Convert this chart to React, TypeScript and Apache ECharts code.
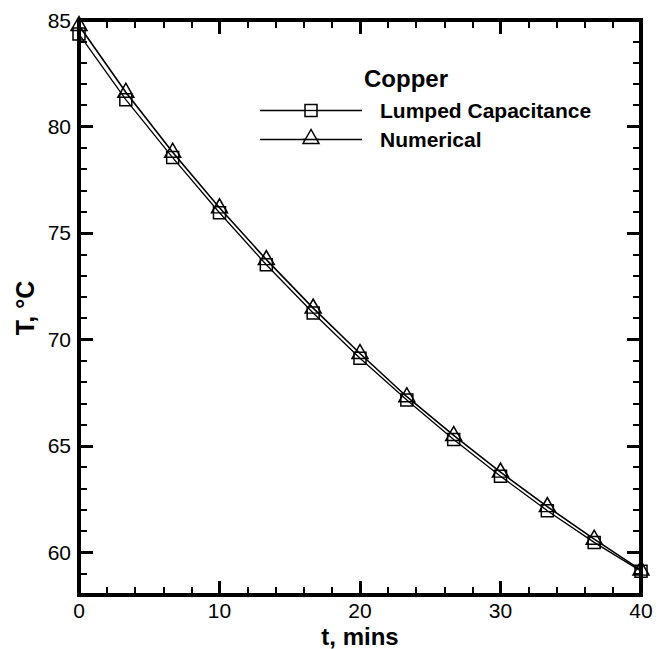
import React, { useEffect, useRef } from "react";
import * as echarts from "echarts";

// Time samples (minutes)
const timeMin = [0, 3.333, 6.667, 10, 13.333, 16.667, 20, 23.333, 26.667, 30, 33.333, 36.667, 40];
// Temperature, lumped capacitance model (°C)
const lumped = [84.34, 81.26, 78.54, 75.95, 73.51, 71.24, 69.12, 67.16, 65.3, 63.58, 61.96, 60.47, 59.12];
// Temperature, numerical solution (°C)
const numerical = [84.74, 81.61, 78.79, 76.18, 73.75, 71.47, 69.34, 67.31, 65.49, 63.77, 62.15, 60.62, 59.17];

// Major tick / label values
const xMajor = [0, 10, 20, 30, 40];
const yMajor = [60, 65, 70, 75, 80, 85];

const X_MIN = 0;
const X_MAX = 40;
const Y_MIN = 58;
const Y_MAX = 85;

const FONT = "Liberation Sans, Arial, Helvetica, sans-serif";

function xAxisDef(position: "bottom" | "top", withLabels: boolean) {
  return {
    type: "value",
    gridIndex: 0,
    position,
    min: X_MIN,
    max: X_MAX,
    interval: 10,
    axisLine: { show: false },
    axisTick: { show: true, inside: true, length: 14, lineStyle: { color: "#000", width: 3 } },
    minorTick: { show: true, splitNumber: 5, length: 8, lineStyle: { color: "#000", width: 2 } },
    axisLabel: withLabels
      ? { show: true, margin: 5, fontSize: 21, color: "#000", fontFamily: FONT }
      : { show: false },
    splitLine: { show: false },
  };
}

// minor ticks every degree, plus an overlay axis carrying the longer major ticks
function yAxisDefs(position: "left" | "right", withLabels: boolean) {
  return [
    {
      type: "value",
      gridIndex: 0,
      position,
      min: Y_MIN,
      max: Y_MAX,
      interval: 1,
      splitLine: { show: false },
      axisLine: { show: false },
      axisTick: { show: true, inside: true, length: 8, lineStyle: { color: "#000", width: 2 } },
      axisLabel: withLabels
        ? { show: true, customValues: yMajor, margin: 8, fontSize: 21, color: "#000", fontFamily: FONT }
        : { show: false },
    },
    {
      type: "value",
      gridIndex: 0,
      position,
      min: Y_MIN,
      max: Y_MAX,
      interval: 1,
      splitLine: { show: false },
      axisLine: { show: false },
      axisTick: { show: true, inside: true, length: 14, customValues: yMajor, lineStyle: { color: "#000", width: 3 } },
      axisLabel: { show: false },
    },
  ];
}

function legendGraphics() {
  const lx0 = 260;
  const lx1 = 362;
  const lxm = 311;
  const row1 = 110.5;
  const row2 = 139.5;
  return [
    {
      type: "text",
      x: 360,
      y: 636,
      style: { text: "t, mins", font: `bold 24px ${FONT}`, fill: "#000", align: "center", verticalAlign: "middle" },
    },
    {
      type: "text",
      x: 25,
      y: 308,
      rotation: Math.PI / 2,
      style: { text: "T, °C", font: `bold 25px ${FONT}`, fill: "#000", align: "center", verticalAlign: "middle" },
    },
    {
      type: "text",
      x: 364,
      y: 78,
      style: { text: "Copper", font: `bold 24px ${FONT}`, fill: "#000", align: "left", verticalAlign: "middle" },
    },
    { type: "line", shape: { x1: lx0, y1: row1, x2: lx1, y2: row1 }, style: { stroke: "#000", lineWidth: 1.3 } },
    {
      type: "rect",
      shape: { x: lxm - 6, y: row1 - 6, width: 12, height: 12 },
      style: { fill: "#fff", stroke: "#000", lineWidth: 1.5 },
    },
    { type: "line", shape: { x1: lxm - 6, y1: row1, x2: lxm + 6, y2: row1 }, style: { stroke: "#000", lineWidth: 1.3 } },
    {
      type: "text",
      x: 380,
      y: row1,
      style: { text: "Lumped Capacitance", font: `bold 21px ${FONT}`, fill: "#000", align: "left", verticalAlign: "middle" },
    },
    { type: "line", shape: { x1: lx0, y1: row2, x2: lx1, y2: row2 }, style: { stroke: "#000", lineWidth: 1.6 } },
    {
      type: "polygon",
      shape: { points: [[lxm, row2 - 10], [lxm - 8, row2 + 4], [lxm + 8, row2 + 4]] },
      style: { fill: "#fff", stroke: "#000", lineWidth: 1.5 },
    },
    { type: "line", shape: { x1: lxm - 8, y1: row2, x2: lxm + 8, y2: row2 }, style: { stroke: "#000", lineWidth: 1.6 } },
    {
      type: "text",
      x: 380,
      y: row2,
      style: { text: "Numerical", font: `bold 21px ${FONT}`, fill: "#000", align: "left", verticalAlign: "middle" },
    },
  ];
}

export default function App() {
  const ref = useRef<HTMLDivElement>(null);

  useEffect(() => {
    if (!ref.current) return;
    const chart = echarts.init(ref.current, null, { renderer: "svg" });

    chart.setOption({
      animation: false,
      grid: {
        left: 79,
        right: 20,
        top: 20,
        bottom: 54,
        show: true,
        borderWidth: 4,
        borderColor: "#000",
      },
      xAxis: [xAxisDef("bottom", true), xAxisDef("top", false)],
      yAxis: [...yAxisDefs("left", true), ...yAxisDefs("right", false)],
      series: [
        {
          name: "Lumped Capacitance",
          type: "line",
          xAxisIndex: 0,
          yAxisIndex: 0,
          data: timeMin.map((t, i) => [t, lumped[i]]),
          symbol: "rect",
          symbolSize: 12,
          showAllSymbol: true,
          lineStyle: { color: "#000", width: 1.3 },
          itemStyle: { color: "rgba(0,0,0,0)", borderColor: "#000", borderWidth: 1.5 },
        },
        {
          name: "Numerical",
          type: "line",
          xAxisIndex: 0,
          yAxisIndex: 0,
          data: timeMin.map((t, i) => [t, numerical[i]]),
          symbol: "triangle",
          symbolSize: [16, 14],
          symbolOffset: [0, -2],
          showAllSymbol: true,
          lineStyle: { color: "#000", width: 1.6 },
          itemStyle: { color: "rgba(0,0,0,0)", borderColor: "#000", borderWidth: 1.5 },
        },
      ],
      graphic: legendGraphics(),
    });

    return () => chart.dispose();
  }, []);

  return <div ref={ref} style={{ position: "absolute", left: 0, top: 0, width: 661, height: 649 }} />;
}
